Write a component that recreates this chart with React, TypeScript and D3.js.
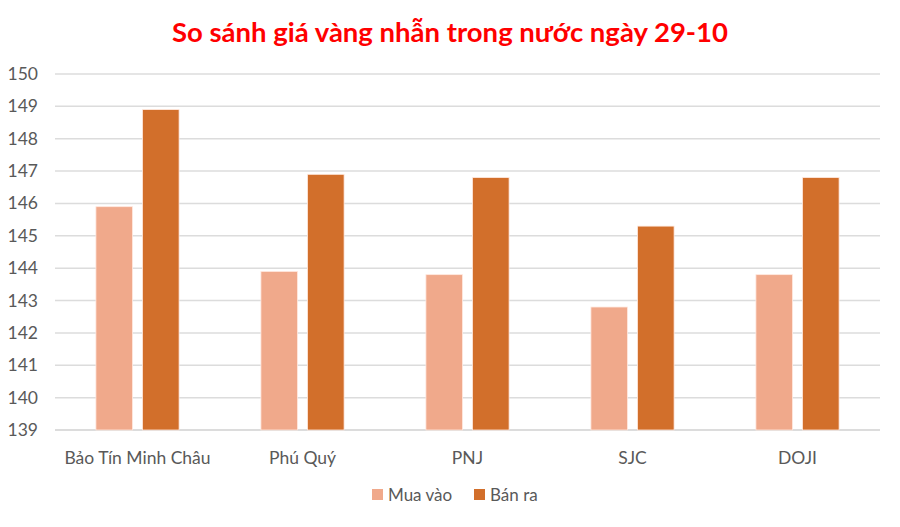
import { useEffect, useRef } from "react";
import * as d3 from "d3";

const categories = ["Bảo Tín Minh Châu", "Phú Quý", "PNJ", "SJC", "DOJI"];
const seriesNames = ["Mua vào", "Bán ra"];
const muaVao = [145.9, 143.9, 143.8, 142.8, 143.8];
const banRa = [148.9, 146.9, 146.8, 145.3, 146.8];
const yTicks = [139, 140, 141, 142, 143, 144, 145, 146, 147, 148, 149, 150];

const colors = ["#F0A98B", "#D26F2B"];
const FONT = "Lato, 'Open Sans', sans-serif";

const App = () => {
  const svgRef = useRef(null);

  useEffect(() => {
    const width = 900;
    const height = 527;
    const margin = { top: 74, right: 20, bottom: 97, left: 55 };
    const svg = d3.select(svgRef.current);
    svg.selectAll("*").remove();
    svg.attr("width", width).attr("height", height);

    const x0 = d3
      .scaleBand()
      .domain(categories)
      .range([margin.left, width - margin.right])
      .padding(0);
    const x1 = d3
      .scaleBand()
      .domain(seriesNames)
      .range([x0.bandwidth() * 0.248, x0.bandwidth() * 0.752])
      .paddingInner(0.215);
    const y = d3
      .scaleLinear()
      .domain([139, 150])
      .range([height - margin.bottom, margin.top]);

    // title
    svg
      .append("text")
      .attr("x", width / 2)
      .attr("y", 42)
      .attr("text-anchor", "middle")
      .attr("font-family", FONT)
      .attr("font-weight", "bold")
      .attr("font-size", "27.5px")
      .attr("fill", "#FF0000")
      .text("So sánh giá vàng nhẫn trong nước ngày 29-10");

    // gridlines
    svg
      .append("g")
      .selectAll("line")
      .data(yTicks)
      .join("line")
      .attr("x1", margin.left)
      .attr("x2", width - margin.right)
      .attr("y1", (d) => y(d))
      .attr("y2", (d) => y(d))
      .attr("stroke", (d) => (d === 139 ? "#D0D0D0" : "#DCDCDC"))
      .attr("stroke-width", 1.5);

    // y labels
    svg
      .append("g")
      .selectAll("text")
      .data(yTicks)
      .join("text")
      .attr("x", 38)
      .attr("y", (d) => y(d) + 6)
      .attr("text-anchor", "end")
      .attr("font-family", FONT)
      .attr("font-size", "17.5px")
      .attr("fill", "#595959")
      .text((d) => d);

    const rows = categories.map((c, i) => ({
      name: c,
      values: [
        { key: seriesNames[0], value: muaVao[i] },
        { key: seriesNames[1], value: banRa[i] },
      ],
    }));

    const groups = svg
      .append("g")
      .selectAll("g")
      .data(rows)
      .join("g")
      .attr("transform", (d) => `translate(${x0(d.name)},0)`);

    groups
      .selectAll("rect")
      .data((d) => d.values)
      .join("rect")
      .attr("x", (d) => x1(d.key) as number)
      .attr("y", (d) => y(d.value))
      .attr("width", x1.bandwidth())
      .attr("height", (d) => y(139) - y(d.value))
      .attr("fill", (d, i) => colors[i])
      .attr("stroke", "#FFE9DF")
      .attr("stroke-width", 0.8);

    // category labels
    svg
      .append("g")
      .selectAll("text")
      .data(categories)
      .join("text")
      .attr("x", (d) => (x0(d) as number) + x0.bandwidth() / 2)
      .attr("y", 464)
      .attr("text-anchor", "middle")
      .attr("font-family", FONT)
      .attr("font-size", "17.5px")
      .attr("fill", "#595959")
      .text((d) => d);

    // legend
    const legendX = [372, 474];
    const legend = svg
      .append("g")
      .selectAll("g")
      .data(seriesNames)
      .join("g")
      .attr("transform", (d, i) => `translate(${legendX[i]},489)`);
    legend
      .append("rect")
      .attr("width", 11)
      .attr("height", 11)
      .attr("fill", (d, i) => colors[i]);
    legend
      .append("text")
      .attr("x", 16)
      .attr("y", 12)
      .attr("font-family", FONT)
      .attr("font-size", "17px")
      .attr("fill", "#595959")
      .text((d) => d);
  }, []);

  return (
    <svg
      ref={svgRef}
      style={{ position: "absolute", left: 0, top: 0, background: "#fff" }}
    ></svg>
  );
};

export default App;
